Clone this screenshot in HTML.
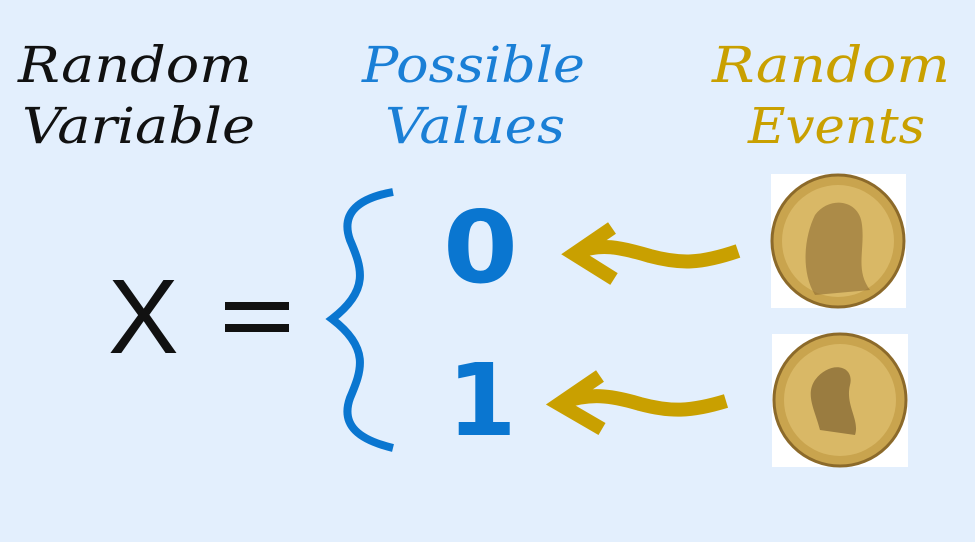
<!DOCTYPE html>
<html><head><meta charset="utf-8"><style>
html,body{margin:0;padding:0;background:#e3effd;}
svg{display:block}
</style></head><body>
<svg width="975" height="542" viewBox="0 0 975 542" xmlns="http://www.w3.org/2000/svg">
<rect width="975" height="542" fill="#e3effd"/>
<g font-family="'DejaVu Serif','Liberation Serif',serif" font-style="italic" font-size="50" lengthAdjust="spacingAndGlyphs">
<text x="18" y="82" fill="#111" textLength="234" lengthAdjust="spacingAndGlyphs">Random</text>
<text x="22" y="143" fill="#111" textLength="233" lengthAdjust="spacingAndGlyphs">Variable</text>
<text x="362" y="82" fill="#1a7fd6" textLength="223" lengthAdjust="spacingAndGlyphs">Possible</text>
<text x="385" y="143" fill="#1a7fd6" textLength="180" lengthAdjust="spacingAndGlyphs">Values</text>
<text x="712" y="82" fill="#c9a000" textLength="238" lengthAdjust="spacingAndGlyphs">Random</text>
<text x="748" y="143" fill="#c9a000" textLength="177" lengthAdjust="spacingAndGlyphs">Events</text>
</g>
<text x="108" y="353" font-family="'Liberation Sans',sans-serif" font-size="106" fill="#111">X</text>
<rect x="225" y="302" width="64" height="8" fill="#111"/>
<rect x="225" y="324" width="64" height="8" fill="#111"/>
<path d="M393,192 C360,198 340,212 350,240 C362,268 370,290 332,319 C370,348 362,370 350,398 C340,426 360,440 393,448" fill="none" stroke="#0a76d0" stroke-width="8"/>
<g font-family="'DejaVu Sans',sans-serif" font-weight="bold" font-size="100" fill="#0a76d0">
<text x="443" y="282" textLength="75" lengthAdjust="spacingAndGlyphs">0</text>
<text x="447" y="435">1</text>
</g>
<g fill="none" stroke="#c9a000" stroke-width="14" stroke-linecap="butt" stroke-linejoin="miter">
<path d="M738,251 C700,264 680,264 650,256 C620,247 600,243 578,252"/>
<path d="M612,228 L574,254 L614,279"/>
<path d="M726,401 C690,412 670,412 640,404 C610,395 590,393 563,402"/>
<path d="M600,376 L559,404 L602,429"/>
</g>
<rect x="771" y="174" width="135" height="134" fill="#fff"/>
<circle cx="838" cy="241" r="66" fill="#c9a44e" stroke="#8c6a2a" stroke-width="3"/>
<circle cx="838" cy="241" r="56" fill="#d9b866"/>
<path d="M815,215 C830,195 860,200 862,225 C865,250 855,270 870,290 L815,295 C800,270 805,235 815,215Z" fill="#8e6c34" opacity="0.6"/>
<rect x="772" y="334" width="136" height="133" fill="#fff"/>
<circle cx="840" cy="400" r="66" fill="#c9a44e" stroke="#8c6a2a" stroke-width="3"/>
<circle cx="840" cy="400" r="56" fill="#d9b866"/>
<path d="M815,380 C830,360 855,365 850,385 C845,405 860,420 855,435 L820,430 C815,410 805,395 815,380Z" fill="#6f5326" opacity="0.6"/>
</svg>
</body></html>
